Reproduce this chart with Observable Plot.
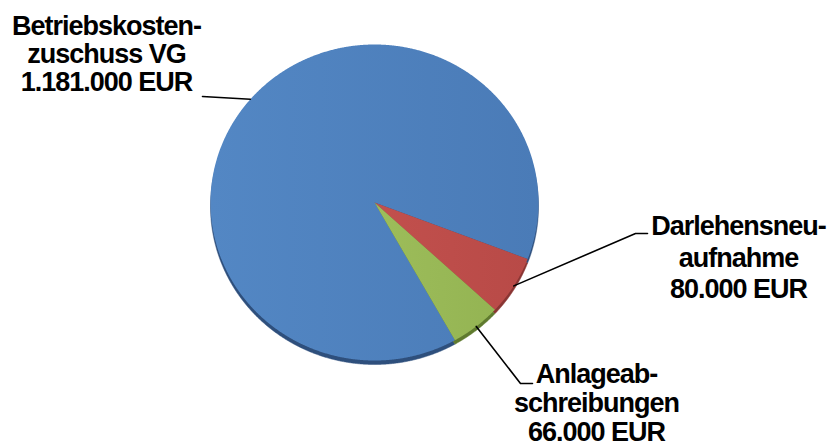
<!DOCTYPE html>
<html><head><meta charset="utf-8">
<script src="https://cdn.jsdelivr.net/npm/d3@7"></script>
<script src="https://cdn.jsdelivr.net/npm/@observablehq/plot@0.6"></script>
<style>body{margin:0;background:#fff}#chart{width:832px;height:448px;overflow:hidden}</style>
</head><body><div id="chart"></div>
<script>
// ---- data ----
const categories = ["Betriebskosten-\nzuschuss VG", "Darlehensneu-\naufnahme", "Anlageab-\nschreibungen"];
const values = [1181000, 80000, 66000];
const unit = "EUR";

// ---- style / layout ----
const topColors = ["url(#gBlue)", "url(#gRed)", "url(#gGreen)"];
const rimColors = ["#2E4F7C", "#8A3533", "#5F7A2E"];
const pie = {cx: 374, cy: 202, rx: 164, ry: 158, start: 150.6 * Math.PI / 180, depth: 4};
const labelLayout = [
  {x: 106, y: 14, lh: 1.05, elbows: [[202, 96]]},
  {x: 738, y: 212, lh: 1.17, elbows: [[635, 233], [647, 233]]},
  {x: 596, y: 362, lh: 1.07, elbows: [[520, 383], [532, 383]]}
];
const fontSize = 27;

const fmt = d3.formatLocale({decimal: ",", thousands: ".", grouping: [3], currency: ["", " EUR"]}).format(",");

const arcs = d3.pie().sort(null).startAngle(pie.start).endAngle(pie.start + 2 * Math.PI)(values);
const pt = a => ({x: pie.cx + pie.rx * Math.sin(a), y: pie.cy - pie.ry * Math.cos(a)});
const slices = arcs.map((arc) => {
  const pts = [{x: pie.cx, y: pie.cy}];
  const n = Math.max(4, Math.ceil((arc.endAngle - arc.startAngle) / 0.005));
  for (let k = 0; k <= n; k++) pts.push(pt(arc.startAngle + (arc.endAngle - arc.startAngle) * k / n));
  pts.push({x: pie.cx, y: pie.cy});
  return pts;
});
const leaders = arcs.map((arc, i) => [pt((arc.startAngle + arc.endAngle) / 2), ...labelLayout[i].elbows.map(([x, y]) => ({x, y}))]);
const labels = categories.map((c, i) => ({text: `${c}\n${fmt(values[i])} ${unit}`, ...labelLayout[i]}));

const marks = [];
slices.forEach((s, i) => marks.push(Plot.line(s, {x: "x", y: "y", fill: rimColors[i], stroke: rimColors[i], strokeWidth: 0.5, dy: pie.depth})));
slices.forEach((s, i) => marks.push(Plot.line(s, {x: "x", y: "y", fill: topColors[i], stroke: "none"})));
leaders.forEach(l => marks.push(Plot.line(l, {x: "x", y: "y", stroke: "#000", strokeWidth: 1.6})));
labels.forEach(l => marks.push(Plot.text([l], {x: "x", y: "y", text: "text", lineAnchor: "top", lineHeight: l.lh, textAnchor: "middle", fontSize, fontWeight: "bold", fill: "#000"})));

const svg = Plot.plot({
  width: 832, height: 448, margin: 0,
  x: {domain: [0, 832], axis: null},
  y: {domain: [0, 448], range: [0, 448], axis: null},
  style: {fontFamily: "'Liberation Sans', Arial, sans-serif", background: "#fff", letterSpacing: "-1px"},
  marks
});
svg.insertAdjacentHTML("afterbegin", `<defs>
<linearGradient id="gBlue" x1="0" y1="0" x2="1" y2="0"><stop offset="0" stop-color="#5387C4"/><stop offset="1" stop-color="#4A7BB7"/></linearGradient>
<linearGradient id="gRed" x1="0" y1="0" x2="1" y2="0"><stop offset="0" stop-color="#C2504D"/><stop offset="1" stop-color="#B84A47"/></linearGradient>
<linearGradient id="gGreen" x1="0" y1="0" x2="1" y2="0"><stop offset="0" stop-color="#9DBD5A"/><stop offset="1" stop-color="#94B453"/></linearGradient>
</defs>`);
document.getElementById("chart").appendChild(svg);
</script>
</body></html>
